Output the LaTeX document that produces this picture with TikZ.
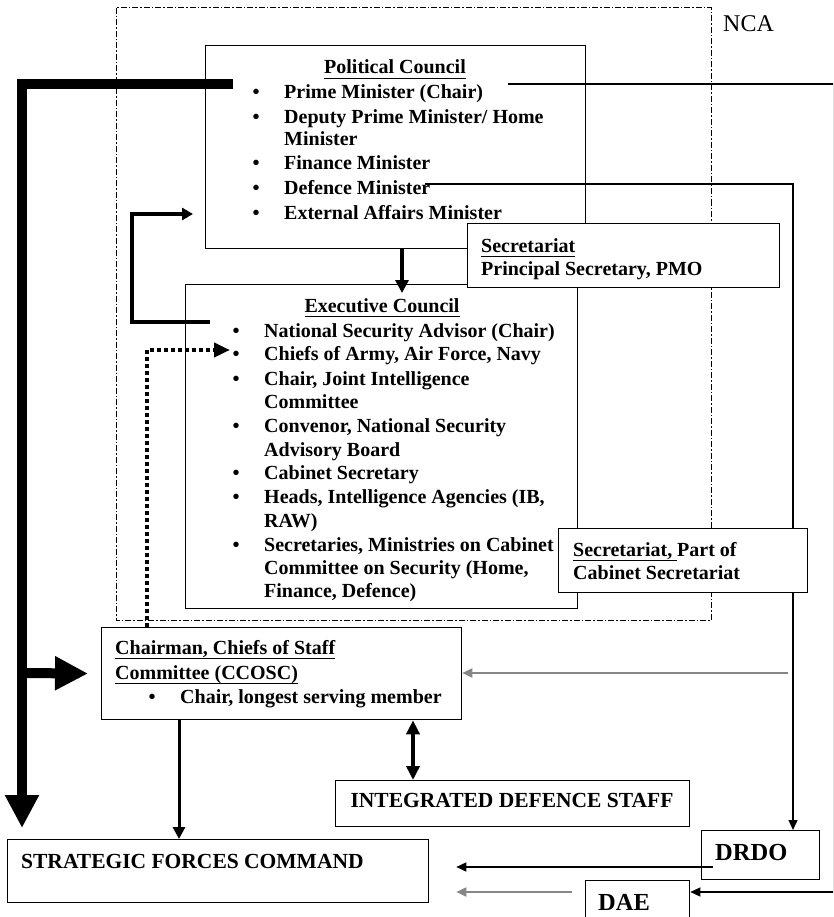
\documentclass[tikz,border=0pt]{standalone}
\usepackage{fontspec}
\setmainfont{Liberation Serif}
\usetikzlibrary{arrows.meta}
\definecolor{lgray}{RGB}{135,135,135}
\newcommand\mf{\fontsize{20}{24}\selectfont\bfseries}
\newcommand\bigf{\fontsize{21.5}{25}\selectfont\bfseries}
\newcommand\hugef{\fontsize{24.5}{28}\selectfont\bfseries}
\newcommand\myul[1]{\setbox0\hbox{#1}\rlap{\rule[-5pt]{\wd0}{1.4pt}}\box0}
\tikzset{
  box/.style={draw, line width=1.3pt, fill=white, inner sep=0pt, anchor=north west},
  txt/.style={anchor=base west, inner sep=0pt, font=\mf},
  ttl/.style={anchor=base, inner sep=0pt, font=\mf},
  bul/.style={anchor=base, inner sep=0pt, font=\mf},
  thin/.style={line width=1.3pt},
  grayline/.style={line width=1.8pt, draw=lgray},
  smalltip/.style={-{Triangle[width=9pt,length=10pt]}},
}
\begin{document}
\begin{tikzpicture}[x=1pt,y=-1pt]
\clip (0,0) rectangle (833,917);
\useasboundingbox (0,0) rectangle (833,917);
% NCA
\draw[line width=1pt, dash pattern=on 6pt off 2pt on 1.5pt off 2pt] (116,8) rectangle (711,620);
\node[anchor=base west, inner sep=0pt, font=\fontsize{24}{28}\selectfont] (nca) at (723,32) {NCA};
% main boxes
\node[box, minimum width=380pt, minimum height=203pt] (pc) at (205,45) {};
\node[box, minimum width=392pt, minimum height=324pt] (ec) at (185,284) {};
\node[box, minimum width=360pt, minimum height=92pt] (cc) at (101,627) {};
\node[box, minimum width=354pt, minimum height=46pt] (ids) at (335,780) {};
\node[box, minimum width=421pt, minimum height=63pt] (sfc) at (7,839) {};
\node[box, minimum width=118pt, minimum height=49pt] (dr) at (701,830) {};
\node[box, minimum width=104pt, minimum height=50pt] (dae) at (585,880) {};
% helper coordinates
\coordinate (xa) at (179,0);
\coordinate (xb) at (413,0);
\coordinate (xc) at (402,0);
\coordinate (xd) at (147,0);
\coordinate (xe) at (793,0);
\coordinate (ya) at (0,867);
\coordinate (yb) at (0,892);
\coordinate (ycc) at (0,673);
\coordinate (ybr) at (0,214);
\coordinate (Lstart) at (233,84);
\coordinate (Lend) at (22,828);
\coordinate (Lbranch) at (22,673);
\coordinate (pmstart) at (508,84);
\coordinate (rc) at (833.2,892);
\coordinate (dmstart) at (425,184);
\coordinate (brstart) at (210,322);
\coordinate (brcorner) at (132,214);
\coordinate (dotend) at (230,350);
\coordinate (ccin) at (788,673);
% connectors
\draw[line width=10pt, -{Triangle[width=32pt,length=33pt]}] (Lstart) -| (Lend);
\draw[line width=10pt, shorten >=13pt, -{Triangle[width=32pt,length=33pt]}] (Lbranch) -- (cc.west);
\draw[thin, smalltip] (pmstart) -| (rc) -- (dae.east |- yb);
\draw[thin, smalltip] (dmstart) -| (dr.north -| xe);
\draw[grayline, smalltip] (ccin) -- (cc.east |- ycc);
\draw[line width=4pt, shorten >=-9pt, -{Triangle[width=13pt,length=13pt]}] (pc.south -| xc) -- (ec.north -| xc);
\draw[line width=3.5pt, shorten >=12pt, -{Triangle[width=12pt,length=11pt]}] (brstart) -| (brcorner) -- (pc.west |- ybr);
\draw[line width=4.5pt, dash pattern=on 4pt off 3pt, -{Triangle[width=14pt,length=16pt]}] (cc.north -| xd) |- (dotend);
\draw[line width=3pt, -{Triangle[width=12pt,length=12pt]}] (cc.south -| xa) -- (sfc.north -| xa);
\draw[line width=4pt, {Triangle[width=13pt,length=14pt]}-{Triangle[width=13pt,length=14pt]}] (cc.south -| xb) -- (ids.north -| xb);
\draw[line width=1.6pt, shorten <=-12pt, shorten >=27pt, smalltip] (dr.west |- ya) -- (sfc.east |- ya);
\draw[grayline, shorten <=13pt, shorten >=27pt, smalltip] (dae.west |- yb) -- (sfc.east |- yb);
% secretariat boxes on top
\node[box, minimum width=312pt, minimum height=64pt] (sp) at (467,223) {};
\node[box, minimum width=249pt, minimum height=64pt] (sc) at (558,528) {};
% Political Council text
\node[ttl] (pct) at (395,74) {\myul{Political Council}};
\node[bul] (pb1) at (256,99) {\textbullet};
\node[txt] (p1) at (284,99) {Prime Minister (Chair)};
\node[bul] (pb2) at (256,124) {\textbullet};
\node[txt] (p2) at (284,124) {Deputy Prime Minister/ Home};
\node[txt] (p2b) at (284,146) {Minister};
\node[bul] (pb3) at (256,170) {\textbullet};
\node[txt] (p3) at (284,170) {Finance Minister};
\node[bul] (pb4) at (256,195) {\textbullet};
\node[txt] (p4) at (284,195) {Defence Minister};
\node[bul] (pb5) at (256,219) {\textbullet};
\node[txt] (p5) at (284,219) {External Affairs Minister};
% Executive Council text
\node[ttl] (ect) at (382,312) {\myul{Executive Council}};
\node[bul] (eb1) at (236,337) {\textbullet};
\node[txt] (e1) at (264,337) {National Security Advisor (Chair)};
\node[bul] (eb2) at (236,360) {\textbullet};
\node[txt] (e2) at (264,360) {Chiefs of Army, Air Force, Navy};
\node[bul] (eb3) at (236,385) {\textbullet};
\node[txt] (e3) at (264,385) {Chair, Joint Intelligence};
\node[txt] (e3b) at (264,408) {Committee};
\node[bul] (eb4) at (236,432) {\textbullet};
\node[txt] (e4) at (264,432) {Convenor, National Security};
\node[txt] (e4b) at (264,456) {Advisory Board};
\node[bul] (eb5) at (236,479) {\textbullet};
\node[txt] (e5) at (264,479) {Cabinet Secretary};
\node[bul] (eb6) at (236,503) {\textbullet};
\node[txt] (e6) at (264,503) {Heads, Intelligence Agencies (IB,};
\node[txt] (e6b) at (264,527) {RAW)};
\node[bul] (eb7) at (236,551) {\textbullet};
\node[txt] (e7) at (264,551) {Secretaries, Ministries on Cabinet};
\node[txt] (e7b) at (264,574) {Committee on Security (Home,};
\node[txt] (e7c) at (264,597) {Finance, Defence)};
% Secretariats
\node[txt] (sp1) at (481,252) {\myul{Secretariat}};
\node[txt] (sp2) at (481,275) {Principal Secretary, PMO};
\node[txt] (sc1) at (573,556) {\myul{Secretariat, }Part of};
\node[txt] (sc2) at (573,579) {Cabinet Secretariat};
% CCOSC
\node[txt] (c1) at (115,654) {\myul{Chairman, Chiefs of Staff}};
\node[txt] (c2) at (115,679) {\myul{Committee (CCOSC)}};
\node[bul] (cb) at (152,703) {\textbullet};
\node[txt] (c3) at (180,703) {Chair, longest serving member};
% others
\node[anchor=base, inner sep=0pt, font=\bigf] (idst) at (512,807) {INTEGRATED DEFENCE STAFF};
\node[anchor=base west, inner sep=0pt, font=\bigf] (sfct) at (21,868) {STRATEGIC FORCES COMMAND};
\node[anchor=base west, inner sep=0pt, font=\hugef] (drt) at (715,860) {DRDO};
\node[anchor=base west, inner sep=0pt, font=\hugef] (daet) at (598,910) {DAE};
\end{tikzpicture}
\end{document}
